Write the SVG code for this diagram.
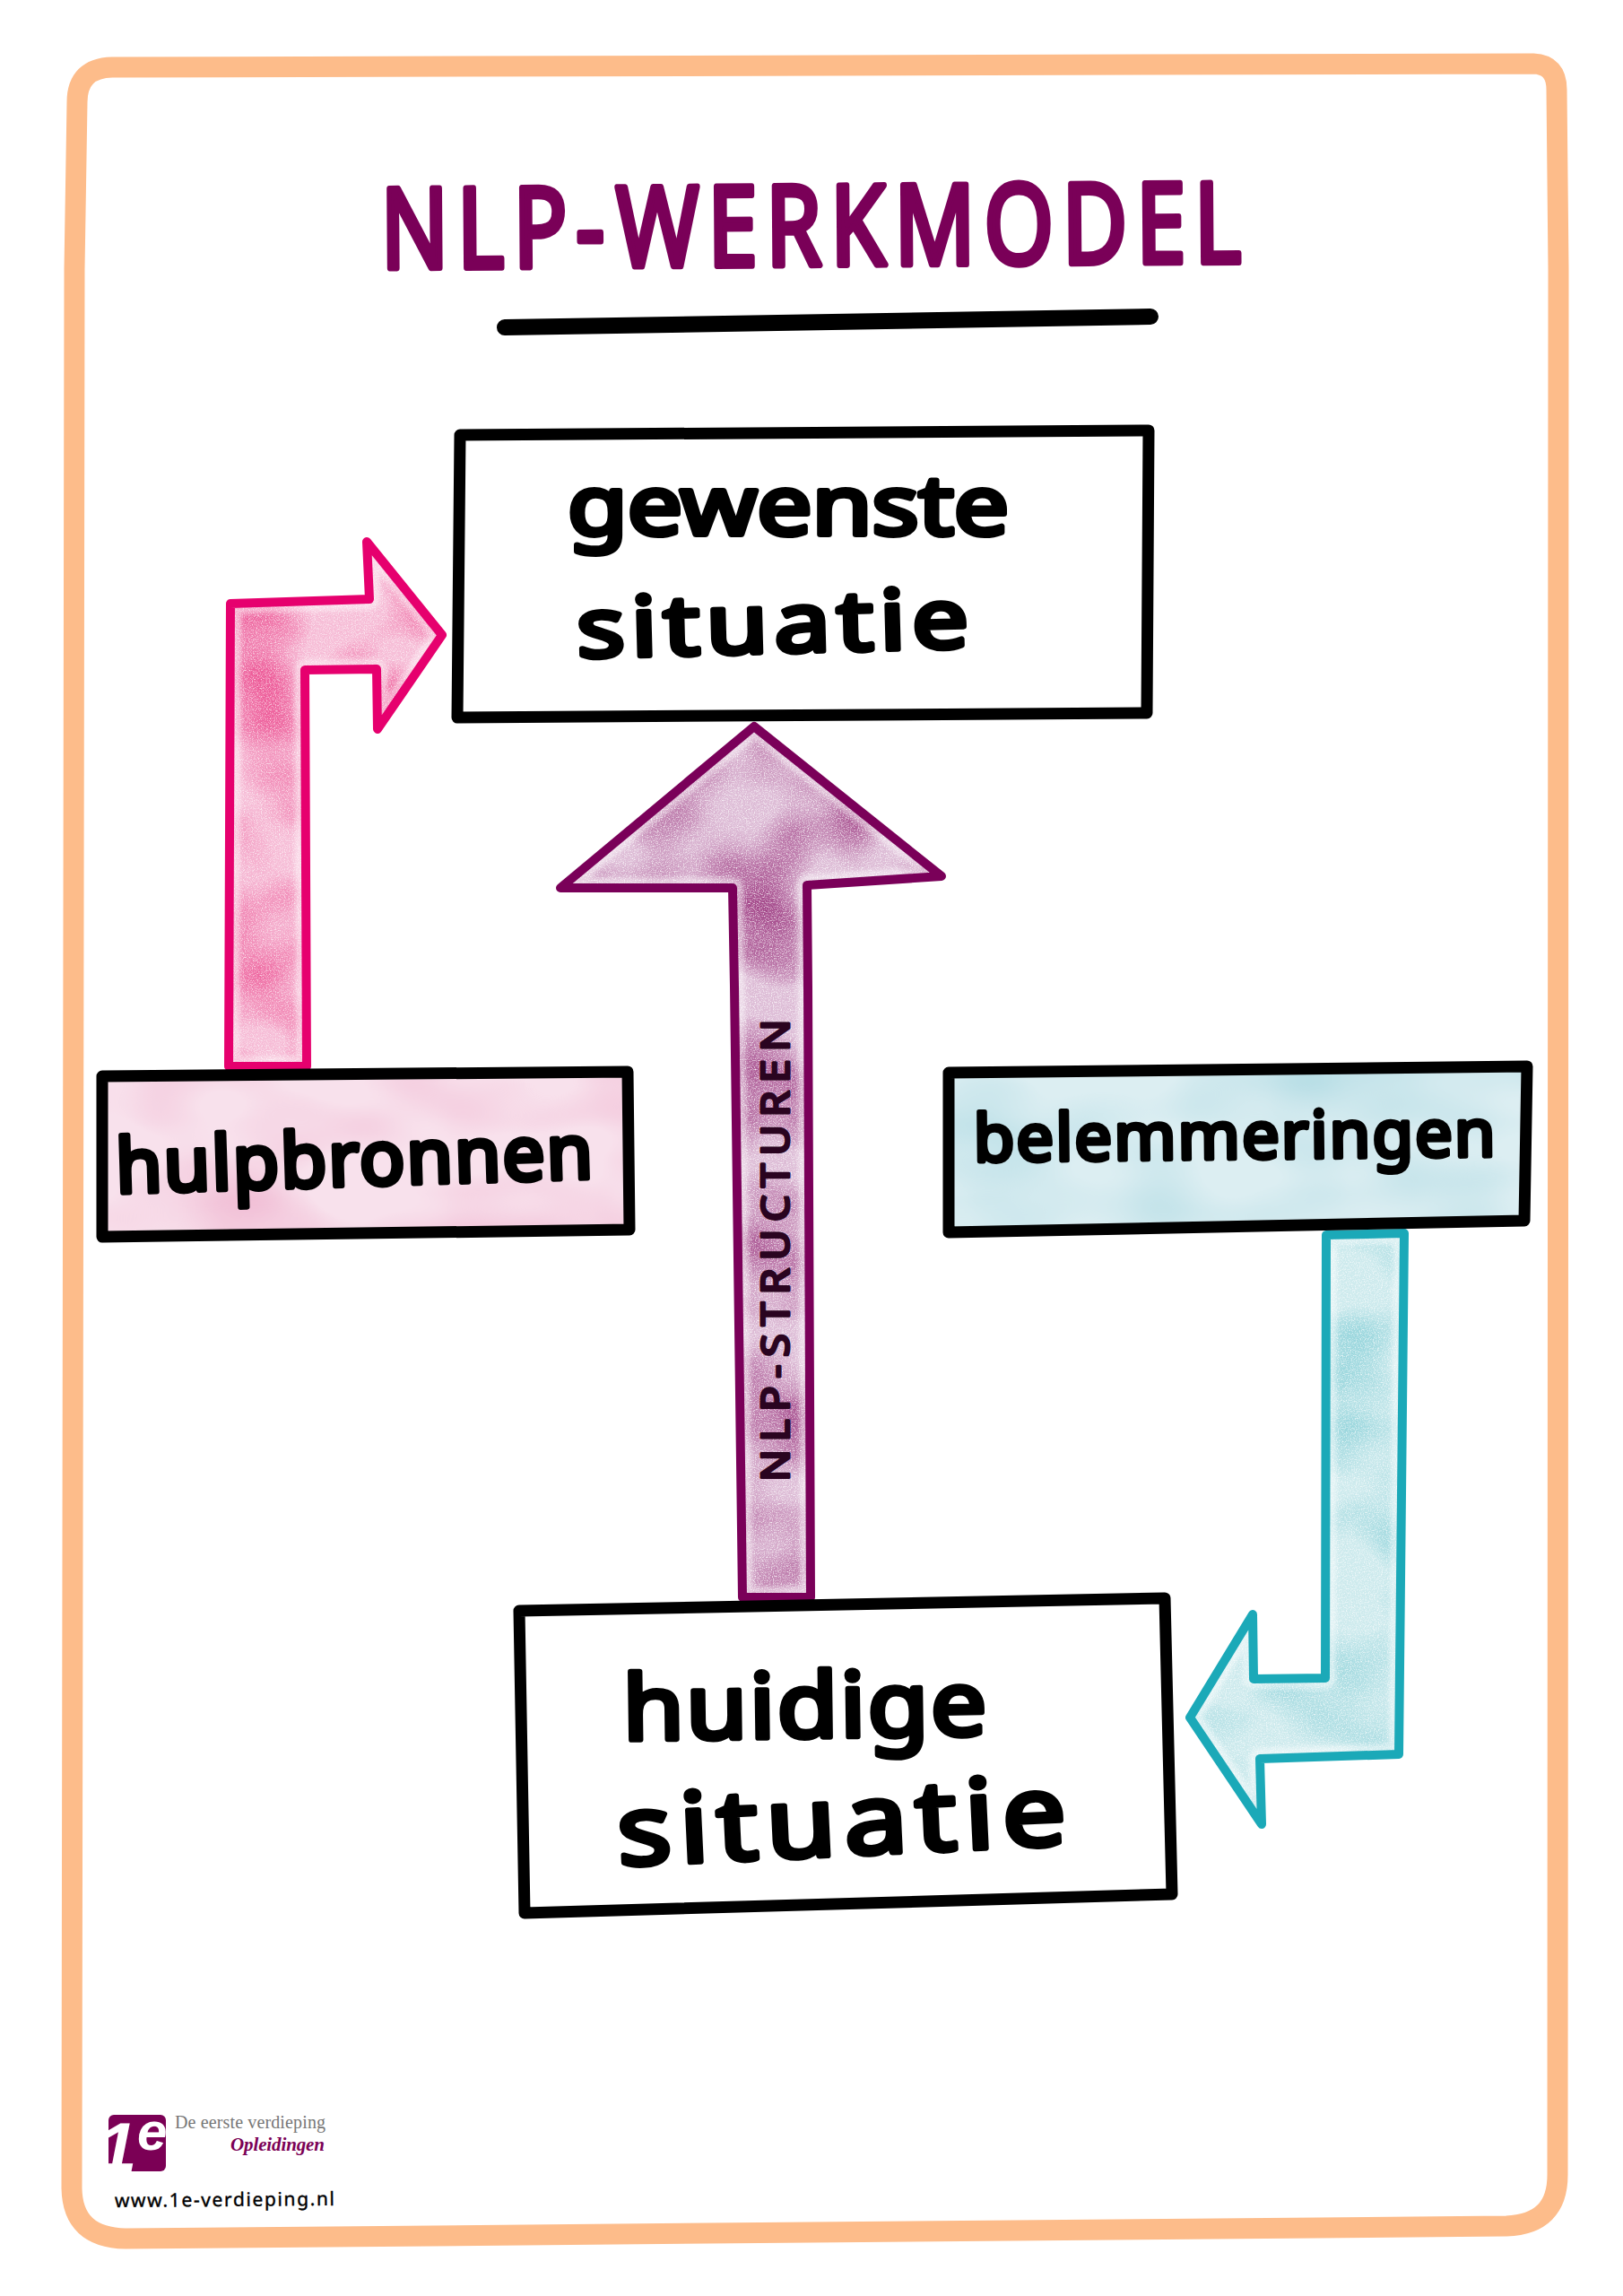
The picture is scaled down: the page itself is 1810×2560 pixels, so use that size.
<svg xmlns="http://www.w3.org/2000/svg" width="1810" height="2560" viewBox="0 0 1810 2560">
<style>
.hand{font-family:"Noto Sans","Liberation Sans",sans-serif;fill:#000;stroke:#000;stroke-linejoin:round;stroke-linecap:round;stroke-width:6px}
.box{stroke:#000;stroke-width:13;stroke-linejoin:round;fill:#fff}
.edge{fill:none;stroke-width:10;stroke-linejoin:round}
.halo{fill:none;stroke:#fff;stroke-width:24;stroke-linejoin:round;opacity:.45;filter:url(#soft)}
.serif{font-family:"Liberation Serif","Times New Roman",serif}
</style>
<defs>
<filter id="soft" x="-5%" y="-5%" width="110%" height="110%"><feGaussianBlur stdDeviation="2.5"/></filter>
<filter id="mPink" x="0" y="0" width="100%" height="100%" color-interpolation-filters="sRGB">
<feTurbulence type="fractalNoise" baseFrequency="0.009 0.012" numOctaves="2" seed="4" result="n"/>
<feColorMatrix in="n" type="matrix" values="0 0 0 0 .93 0 0 0 0 .36 0 0 0 0 .60 2.4 0 0 0 -.85" result="blot"/>
<feTurbulence type="fractalNoise" baseFrequency=".8" numOctaves="2" seed="8" result="g"/>
<feColorMatrix in="g" type="matrix" values="0 0 0 0 1 0 0 0 0 1 0 0 0 0 1 0 2 0 0 -.9" result="grain"/>
<feMerge result="m"><feMergeNode in="SourceGraphic"/><feMergeNode in="blot"/><feMergeNode in="grain"/></feMerge>
<feComposite in="m" in2="SourceAlpha" operator="in"/>
</filter>
<filter id="mPurple" x="0" y="0" width="100%" height="100%" color-interpolation-filters="sRGB">
<feTurbulence type="fractalNoise" baseFrequency="0.009 0.011" numOctaves="2" seed="11" result="n"/>
<feColorMatrix in="n" type="matrix" values="0 0 0 0 .64 0 0 0 0 .28 0 0 0 0 .54 2.4 0 0 0 -.9" result="blot"/>
<feTurbulence type="fractalNoise" baseFrequency=".8" numOctaves="2" seed="3" result="g"/>
<feColorMatrix in="g" type="matrix" values="0 0 0 0 1 0 0 0 0 1 0 0 0 0 1 0 2.2 0 0 -1" result="grain"/>
<feMerge result="m"><feMergeNode in="SourceGraphic"/><feMergeNode in="blot"/><feMergeNode in="grain"/></feMerge>
<feComposite in="m" in2="SourceAlpha" operator="in"/>
</filter>
<filter id="mTeal" x="0" y="0" width="100%" height="100%" color-interpolation-filters="sRGB">
<feTurbulence type="fractalNoise" baseFrequency="0.009 0.012" numOctaves="2" seed="7" result="n"/>
<feColorMatrix in="n" type="matrix" values="0 0 0 0 .55 0 0 0 0 .82 0 0 0 0 .85 2.2 0 0 0 -.85" result="blot"/>
<feTurbulence type="fractalNoise" baseFrequency=".8" numOctaves="2" seed="5" result="g"/>
<feColorMatrix in="g" type="matrix" values="0 0 0 0 1 0 0 0 0 1 0 0 0 0 1 0 2 0 0 -.9" result="grain"/>
<feMerge result="m"><feMergeNode in="SourceGraphic"/><feMergeNode in="blot"/><feMergeNode in="grain"/></feMerge>
<feComposite in="m" in2="SourceAlpha" operator="in"/>
</filter>
<filter id="mPaleP" x="0" y="0" width="100%" height="100%" color-interpolation-filters="sRGB">
<feTurbulence type="fractalNoise" baseFrequency="0.006 0.012" numOctaves="2" seed="9" result="n"/>
<feColorMatrix in="n" type="matrix" values="0 0 0 0 .94 0 0 0 0 .72 0 0 0 0 .82 2 0 0 0 -.8" result="blot"/>
<feMerge result="m"><feMergeNode in="SourceGraphic"/><feMergeNode in="blot"/></feMerge>
<feComposite in="m" in2="SourceAlpha" operator="in"/>
</filter>
<filter id="mPaleT" x="0" y="0" width="100%" height="100%" color-interpolation-filters="sRGB">
<feTurbulence type="fractalNoise" baseFrequency="0.006 0.012" numOctaves="2" seed="2" result="n"/>
<feColorMatrix in="n" type="matrix" values="0 0 0 0 .72 0 0 0 0 .87 0 0 0 0 .90 2 0 0 0 -.75" result="blot"/>
<feMerge result="m"><feMergeNode in="SourceGraphic"/><feMergeNode in="blot"/></feMerge>
<feComposite in="m" in2="SourceAlpha" operator="in"/>
</filter>
<polygon id="arPink" points="255,1189 257,673 412,668 409,604 493,708 421,813 420,746 340,747 342,1189"/>
<polygon id="arPurple" points="841,810 1050,977 900,987 901,1100 904,1781 828,1781 819,1100 817,990 625,990"/>
<polygon id="arTeal" points="1479,1377 1566,1375 1560,1956 1405,1961 1407,2034 1327,1915 1397,1800 1398,1872 1478,1871"/>
</defs>

<rect width="1810" height="2560" fill="#fff"/>
<path id="frame" d="M125 75Q86 76 86 114L83 300L80 2440Q81 2495 140 2496L1680 2482Q1737 2480 1737 2425L1738 300L1736 100Q1736 72 1710 71Z" fill="none" stroke="#FDBC8A" stroke-width="23" stroke-linejoin="round"/>

<g id="title">
<text transform="translate(425 299) rotate(-.4) scale(.8 1)" x="0 106.6 184.6 272 328 456 537 627 716 841 950 1053 1134" y="0" font-size="124" style="font-family:'Noto Sans','Liberation Sans',sans-serif;fill:#7A0058;stroke:#7A0058;stroke-width:7px;stroke-linejoin:round">NLP-WERKMODEL</text>
<path d="M563 365Q900 358 1283 353" fill="none" stroke="#000" stroke-width="18" stroke-linecap="round"/>
</g>

<g id="connectors">
<g id="conn-hulpbronnen">
<use href="#arPink" fill="#F6BCD6" filter="url(#mPink)"/>
<use href="#arPink" class="halo"/>
<use href="#arPink" class="edge" stroke="#E6006E"/>
</g>
<g id="conn-structuren">
<use href="#arPurple" fill="#DDBCD6" filter="url(#mPurple)"/>
<use href="#arPurple" class="halo"/>
<use href="#arPurple" class="edge" stroke="#7A0059"/>
<text x="880" y="1652" transform="rotate(-90 880 1652)" textLength="524" lengthAdjust="spacingAndGlyphs" letter-spacing="8" font-size="44" style="font-family:'Noto Sans','Liberation Sans',sans-serif;fill:#2A0420;stroke:#2A0420;stroke-width:3px;stroke-linejoin:round">NLP-STRUCTUREN</text>
</g>
<g id="conn-belemmeringen">
<use href="#arTeal" fill="#CDEAED" filter="url(#mTeal)"/>
<use href="#arTeal" class="halo"/>
<use href="#arTeal" class="edge" stroke="#1BA9B8"/>
</g>
</g>

<g id="node-gewenste">
<polygon class="box" points="513,485 1281,480 1279,795 510,800"/>
<text class="hand" x="633" y="596" font-size="92" textLength="492" lengthAdjust="spacingAndGlyphs">gewenste</text>
<text class="hand" x="644" y="733" transform="rotate(-1.5 644 733)" font-size="92" letter-spacing="6" textLength="444" lengthAdjust="spacingAndGlyphs">situatie</text>
</g>

<g id="node-hulpbronnen">
<polygon points="114,1200 700,1195 702,1371 114,1379" fill="#F8E1EC" filter="url(#mPaleP)"/>
<polygon class="box" style="fill:none" points="114,1200 700,1195 702,1371 114,1379"/>
<text class="hand" x="130" y="1330" transform="rotate(-1.8 130 1330)" font-size="84" letter-spacing="2" textLength="534" lengthAdjust="spacingAndGlyphs">hulpbronnen</text>
</g>

<g id="node-belemmeringen">
<polygon points="1058,1196 1703,1189 1700,1361 1058,1374" fill="#DCEEF2" filter="url(#mPaleT)"/>
<polygon class="box" style="fill:none" points="1058,1196 1703,1189 1700,1361 1058,1374"/>
<text class="hand" x="1086" y="1295" transform="rotate(-.6 1086 1295)" font-size="73" letter-spacing="2" textLength="584" lengthAdjust="spacingAndGlyphs" style="stroke-width:5px">belemmeringen</text>
</g>

<g id="node-huidige">
<polygon class="box" points="579,1796 1299,1782 1307,2112 585,2133"/>
<text class="hand" x="695" y="1940" transform="rotate(-.8 695 1940)" font-size="100" letter-spacing="2" textLength="408" lengthAdjust="spacingAndGlyphs">huidige</text>
<text class="hand" x="690" y="2080" transform="rotate(-2.7 690 2080)" font-size="108" letter-spacing="8" textLength="510" lengthAdjust="spacingAndGlyphs">situatie</text>
</g>

<g id="logo">
<rect x="121" y="2358" width="64" height="63" rx="6" fill="#7B0055"/>
<text y="2421" font-size="78" font-weight="bold" font-style="italic" fill="#fff" style="font-family:'Liberation Sans',Arial,sans-serif"><tspan x="109">1</tspan></text>
<text x="153" y="2397" font-size="60" font-weight="bold" font-style="italic" fill="#fff" style="font-family:'Liberation Sans',Arial,sans-serif">e</text>
<text x="195" y="2373" class="serif" font-size="20" fill="#777" textLength="168">De eerste verdieping</text>
<text x="257" y="2398" class="serif" font-size="21" font-weight="bold" font-style="italic" fill="#7B0055" textLength="105">Opleidingen</text>
<text x="128" y="2461" transform="rotate(-.5 128 2461)" font-size="21" textLength="245" style="font-family:'Noto Sans','Liberation Sans',sans-serif;fill:#000;stroke:#000;stroke-width:.4px">www.1e-verdieping.nl</text>
</g>
</svg>
